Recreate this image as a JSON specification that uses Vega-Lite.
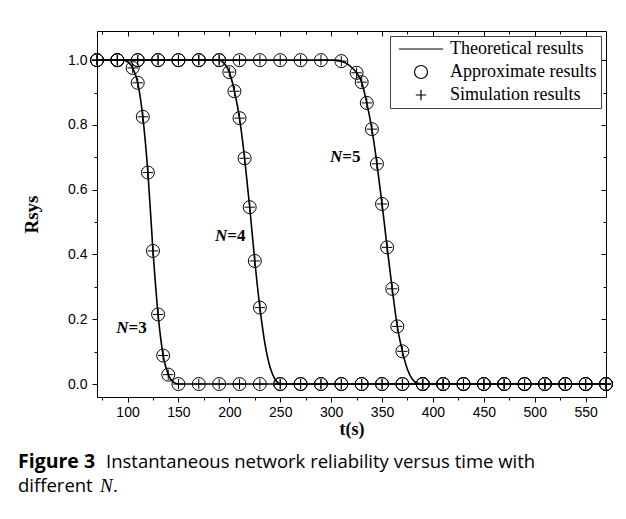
{
  "$schema": "https://vega.github.io/schema/vega-lite/v6.json",
  "background": "white",
  "padding": {"left": 18, "top": 30, "right": 20, "bottom": 5},
  "datasets": {
    "theory": [
      {"N": 3, "t": 70, "R": 1}, {"N": 3, "t": 95, "R": 1}, {"N": 3, "t": 100, "R": 0.995}, {"N": 3, "t": 105, "R": 0.976}, {"N": 3, "t": 110, "R": 0.93}, {"N": 3, "t": 115, "R": 0.825}, {"N": 3, "t": 120, "R": 0.653}, {"N": 3, "t": 125, "R": 0.411}, {"N": 3, "t": 130, "R": 0.215}, {"N": 3, "t": 135, "R": 0.088}, {"N": 3, "t": 140, "R": 0.029}, {"N": 3, "t": 145, "R": 0.006}, {"N": 3, "t": 150, "R": 0}, {"N": 3, "t": 570, "R": 0},
      {"N": 4, "t": 70, "R": 1}, {"N": 4, "t": 190, "R": 1}, {"N": 4, "t": 195, "R": 0.99}, {"N": 4, "t": 200, "R": 0.963}, {"N": 4, "t": 205, "R": 0.904}, {"N": 4, "t": 210, "R": 0.821}, {"N": 4, "t": 215, "R": 0.697}, {"N": 4, "t": 220, "R": 0.546}, {"N": 4, "t": 225, "R": 0.38}, {"N": 4, "t": 230, "R": 0.236}, {"N": 4, "t": 235, "R": 0.124}, {"N": 4, "t": 240, "R": 0.052}, {"N": 4, "t": 245, "R": 0.014}, {"N": 4, "t": 250, "R": 0.001}, {"N": 4, "t": 255, "R": 0}, {"N": 4, "t": 570, "R": 0},
      {"N": 5, "t": 70, "R": 1}, {"N": 5, "t": 305, "R": 1}, {"N": 5, "t": 310, "R": 0.997}, {"N": 5, "t": 315, "R": 0.99}, {"N": 5, "t": 320, "R": 0.978}, {"N": 5, "t": 325, "R": 0.961}, {"N": 5, "t": 330, "R": 0.932}, {"N": 5, "t": 335, "R": 0.868}, {"N": 5, "t": 340, "R": 0.787}, {"N": 5, "t": 345, "R": 0.68}, {"N": 5, "t": 350, "R": 0.556}, {"N": 5, "t": 355, "R": 0.422}, {"N": 5, "t": 360, "R": 0.294}, {"N": 5, "t": 365, "R": 0.178}, {"N": 5, "t": 370, "R": 0.101}, {"N": 5, "t": 375, "R": 0.045}, {"N": 5, "t": 380, "R": 0.014}, {"N": 5, "t": 385, "R": 0.002}, {"N": 5, "t": 390, "R": 0}, {"N": 5, "t": 570, "R": 0}
    ],
    "markers": [
      {"N": 3, "t": 70, "R": 1}, {"N": 3, "t": 90, "R": 1}, {"N": 3, "t": 105, "R": 0.976}, {"N": 3, "t": 110, "R": 0.93}, {"N": 3, "t": 115, "R": 0.825}, {"N": 3, "t": 120, "R": 0.653}, {"N": 3, "t": 125, "R": 0.411}, {"N": 3, "t": 130, "R": 0.215}, {"N": 3, "t": 135, "R": 0.088}, {"N": 3, "t": 140, "R": 0.029},
      {"N": 3, "t": 150, "R": 0}, {"N": 3, "t": 170, "R": 0}, {"N": 3, "t": 190, "R": 0}, {"N": 3, "t": 210, "R": 0}, {"N": 3, "t": 230, "R": 0}, {"N": 3, "t": 250, "R": 0}, {"N": 3, "t": 270, "R": 0}, {"N": 3, "t": 290, "R": 0}, {"N": 3, "t": 310, "R": 0}, {"N": 3, "t": 330, "R": 0}, {"N": 3, "t": 350, "R": 0}, {"N": 3, "t": 370, "R": 0}, {"N": 3, "t": 390, "R": 0}, {"N": 3, "t": 410, "R": 0}, {"N": 3, "t": 430, "R": 0}, {"N": 3, "t": 450, "R": 0}, {"N": 3, "t": 470, "R": 0}, {"N": 3, "t": 490, "R": 0}, {"N": 3, "t": 510, "R": 0}, {"N": 3, "t": 530, "R": 0}, {"N": 3, "t": 550, "R": 0}, {"N": 3, "t": 570, "R": 0},
      {"N": 4, "t": 70, "R": 1}, {"N": 4, "t": 90, "R": 1}, {"N": 4, "t": 110, "R": 1}, {"N": 4, "t": 130, "R": 1}, {"N": 4, "t": 150, "R": 1}, {"N": 4, "t": 170, "R": 1}, {"N": 4, "t": 190, "R": 1},
      {"N": 4, "t": 200, "R": 0.963}, {"N": 4, "t": 205, "R": 0.904}, {"N": 4, "t": 210, "R": 0.821}, {"N": 4, "t": 215, "R": 0.697}, {"N": 4, "t": 220, "R": 0.546}, {"N": 4, "t": 225, "R": 0.38}, {"N": 4, "t": 230, "R": 0.236},
      {"N": 4, "t": 250, "R": 0}, {"N": 4, "t": 270, "R": 0}, {"N": 4, "t": 290, "R": 0}, {"N": 4, "t": 310, "R": 0}, {"N": 4, "t": 330, "R": 0}, {"N": 4, "t": 350, "R": 0}, {"N": 4, "t": 370, "R": 0}, {"N": 4, "t": 390, "R": 0}, {"N": 4, "t": 410, "R": 0}, {"N": 4, "t": 430, "R": 0}, {"N": 4, "t": 450, "R": 0}, {"N": 4, "t": 470, "R": 0}, {"N": 4, "t": 490, "R": 0}, {"N": 4, "t": 510, "R": 0}, {"N": 4, "t": 530, "R": 0}, {"N": 4, "t": 550, "R": 0}, {"N": 4, "t": 570, "R": 0},
      {"N": 5, "t": 70, "R": 1}, {"N": 5, "t": 90, "R": 1}, {"N": 5, "t": 110, "R": 1}, {"N": 5, "t": 130, "R": 1}, {"N": 5, "t": 150, "R": 1}, {"N": 5, "t": 170, "R": 1}, {"N": 5, "t": 190, "R": 1}, {"N": 5, "t": 210, "R": 1}, {"N": 5, "t": 230, "R": 1}, {"N": 5, "t": 250, "R": 1}, {"N": 5, "t": 270, "R": 1}, {"N": 5, "t": 290, "R": 1}, {"N": 5, "t": 310, "R": 0.997},
      {"N": 5, "t": 325, "R": 0.961}, {"N": 5, "t": 330, "R": 0.932}, {"N": 5, "t": 335, "R": 0.868}, {"N": 5, "t": 340, "R": 0.787}, {"N": 5, "t": 345, "R": 0.68}, {"N": 5, "t": 350, "R": 0.556}, {"N": 5, "t": 355, "R": 0.422}, {"N": 5, "t": 360, "R": 0.294}, {"N": 5, "t": 365, "R": 0.178}, {"N": 5, "t": 370, "R": 0.101},
      {"N": 5, "t": 390, "R": 0}, {"N": 5, "t": 410, "R": 0}, {"N": 5, "t": 430, "R": 0}, {"N": 5, "t": 450, "R": 0}, {"N": 5, "t": 470, "R": 0}, {"N": 5, "t": 490, "R": 0}, {"N": 5, "t": 510, "R": 0}, {"N": 5, "t": 530, "R": 0}, {"N": 5, "t": 550, "R": 0}, {"N": 5, "t": 570, "R": 0}
    ]
  },
  "spacing": 10,
  "vconcat": [
    {
      "width": 509,
      "height": 366,
      "resolve": {"axis": {"x": "independent", "y": "independent"}},
      "layer": [
        {
          "data": {"name": "theory"},
          "mark": {"type": "line", "color": "black", "strokeWidth": 1.6, "interpolate": "monotone"},
          "encoding": {
            "x": {
              "field": "t", "type": "quantitative",
              "scale": {"domain": [70, 570], "nice": false, "zero": false},
              "axis": {
                "title": "t(s)",
                "values": [75, 100, 125, 150, 175, 200, 225, 250, 275, 300, 325, 350, 375, 400, 425, 450, 475, 500, 525, 550],
                "labelExpr": "datum.value % 50 === 0 ? datum.label : ''",
                "format": "d",
                "tickSize": {"condition": {"test": "datum.value % 50 === 0", "value": 5}, "value": 3},
                "labelPadding": 3,
                "titlePadding": 1,
                "titleFontSize": 18
              }
            },
            "y": {
              "field": "R", "type": "quantitative",
              "scale": {"domain": [-0.04, 1.09], "nice": false, "zero": false},
              "axis": {
                "title": "Rsys",
                "values": [0, 0.1, 0.2, 0.3, 0.4, 0.5, 0.6, 0.7, 0.8, 0.9, 1.0],
                "format": ".1f",
                "labelExpr": "round(datum.value * 10) % 2 === 0 ? datum.label : ''",
                "tickSize": {"condition": {"test": "round(datum.value * 10) % 2 === 0", "value": 5}, "value": 3},
                "labelPadding": 5,
                "titlePadding": 26,
                "titleFontSize": 19
              }
            },
            "detail": {"field": "N", "type": "nominal"}
          }
        },
        {
          "data": {"name": "markers"},
          "mark": {"type": "point", "filled": false, "stroke": "black", "strokeWidth": 1, "size": 169, "opacity": 1},
          "encoding": {
            "x": {"field": "t", "type": "quantitative", "axis": null},
            "y": {"field": "R", "type": "quantitative", "axis": null},
            "shape": {
              "datum": "Approximate results",
              "type": "nominal",
              "scale": {
                "domain": ["Theoretical results", "Approximate results", "Simulation results"],
                "range": ["M-3.4,0L3.4,0", "circle", "M-0.8,0L0.8,0M0,-0.8L0,0.8"]
              },
              "legend": {
                "title": null,
                "orient": "top-right",
                "offset": 5,
                "strokeColor": "#444",
                "fillColor": "white",
                "padding": 4,
                "labelFont": "Liberation Serif",
                "labelFontSize": 18,
                "labelColor": "black",
                "symbolSize": 169,
                "symbolStrokeColor": "black",
                "symbolStrokeWidth": 1.2,
                "symbolFillColor": "transparent",
                "symbolOffset": 18,
                "labelOffset": 20,
                "rowPadding": 5
              }
            }
          }
        },
        {
          "data": {"name": "markers"},
          "mark": {"type": "point", "filled": false, "stroke": "black", "strokeWidth": 1, "size": 169, "opacity": 1},
          "encoding": {
            "x": {
              "field": "t", "type": "quantitative",
              "axis": {
                "orient": "top", "title": null, "labels": false, "domain": false,
                "values": [75, 100, 125, 150, 175, 200, 225, 250, 275, 300, 325, 350, 375, 400, 425, 450, 475, 500, 525, 550],
                "tickSize": {"condition": {"test": "datum.value % 50 === 0", "value": -5}, "value": -3}
              }
            },
            "y": {
              "field": "R", "type": "quantitative",
              "axis": {
                "orient": "right", "title": null, "labels": false, "domain": false,
                "values": [0, 0.1, 0.2, 0.3, 0.4, 0.5, 0.6, 0.7, 0.8, 0.9, 1.0],
                "tickSize": {"condition": {"test": "round(datum.value * 10) % 2 === 0", "value": -5}, "value": -3}
              }
            },
            "shape": {"datum": "Simulation results", "type": "nominal"}
          }
        },
        {
          "data": {"values": [{}]},
          "mark": {"type": "text", "text": "N", "font": "Liberation Serif", "fontStyle": "italic", "fontWeight": "bold", "fontSize": 17, "align": "right", "baseline": "middle"},
          "encoding": {"x": {"datum": 101, "type": "quantitative", "axis": null}, "y": {"datum": 0.173, "type": "quantitative", "axis": null}}
        },
        {
          "data": {"values": [{}]},
          "mark": {"type": "text", "text": "=3", "font": "Liberation Serif", "fontWeight": "bold", "fontSize": 17, "align": "left", "baseline": "middle"},
          "encoding": {"x": {"datum": 101, "type": "quantitative", "axis": null}, "y": {"datum": 0.173, "type": "quantitative", "axis": null}}
        },
        {
          "data": {"values": [{}]},
          "mark": {"type": "text", "text": "N", "font": "Liberation Serif", "fontStyle": "italic", "fontWeight": "bold", "fontSize": 17, "align": "right", "baseline": "middle"},
          "encoding": {"x": {"datum": 198, "type": "quantitative", "axis": null}, "y": {"datum": 0.457, "type": "quantitative", "axis": null}}
        },
        {
          "data": {"values": [{}]},
          "mark": {"type": "text", "text": "=4", "font": "Liberation Serif", "fontWeight": "bold", "fontSize": 17, "align": "left", "baseline": "middle"},
          "encoding": {"x": {"datum": 198, "type": "quantitative", "axis": null}, "y": {"datum": 0.457, "type": "quantitative", "axis": null}}
        },
        {
          "data": {"values": [{}]},
          "mark": {"type": "text", "text": "N", "font": "Liberation Serif", "fontStyle": "italic", "fontWeight": "bold", "fontSize": 17, "align": "right", "baseline": "middle"},
          "encoding": {"x": {"datum": 311, "type": "quantitative", "axis": null}, "y": {"datum": 0.70, "type": "quantitative", "axis": null}}
        },
        {
          "data": {"values": [{}]},
          "mark": {"type": "text", "text": "=5", "font": "Liberation Serif", "fontWeight": "bold", "fontSize": 17, "align": "left", "baseline": "middle"},
          "encoding": {"x": {"datum": 311, "type": "quantitative", "axis": null}, "y": {"datum": 0.70, "type": "quantitative", "axis": null}}
        }
      ]
    },
    {
      "width": 509,
      "height": 50,
      "view": {"stroke": null},
      "data": {"values": [{}]},
      "layer": [
        {
          "mark": {"type": "text", "text": "Figure 3", "font": "Open Sans", "fontWeight": "bold", "fontSize": 19.5, "align": "left", "baseline": "middle"},
          "encoding": {
            "x": {"datum": -79, "type": "quantitative", "scale": {"domain": [0, 509], "nice": false, "zero": false}, "axis": null},
            "y": {"datum": 13, "type": "quantitative", "scale": {"domain": [0, 50], "reverse": true, "nice": false}, "axis": null}
          }
        },
        {
          "mark": {"type": "text", "text": "Instantaneous network reliability versus time with", "font": "Open Sans", "fontSize": 18.5, "align": "left", "baseline": "middle"},
          "encoding": {"x": {"datum": 9, "type": "quantitative"}, "y": {"datum": 13, "type": "quantitative"}}
        },
        {
          "mark": {"type": "text", "text": "different", "font": "Open Sans", "fontSize": 18.5, "align": "left", "baseline": "middle"},
          "encoding": {"x": {"datum": -79, "type": "quantitative"}, "y": {"datum": 37, "type": "quantitative"}}
        },
        {
          "mark": {"type": "text", "text": "N", "font": "Liberation Serif", "fontStyle": "italic", "fontSize": 19, "align": "left", "baseline": "middle"},
          "encoding": {"x": {"datum": 3, "type": "quantitative"}, "y": {"datum": 37, "type": "quantitative"}}
        },
        {
          "mark": {"type": "text", "text": ".", "font": "Open Sans", "fontSize": 18.5, "align": "left", "baseline": "middle"},
          "encoding": {"x": {"datum": 16, "type": "quantitative"}, "y": {"datum": 37, "type": "quantitative"}}
        }
      ]
    }
  ],
  "config": {
    "view": {"stroke": "black", "strokeWidth": 1},
    "axis": {
      "grid": false,
      "domainColor": "black",
      "tickColor": "black",
      "labelColor": "black",
      "labelFont": "Liberation Sans",
      "labelFontSize": 14,
      "titleFont": "Liberation Serif",
      "titleFontSize": 17,
      "titleFontWeight": "bold",
      "titleColor": "black"
    }
  }
}
